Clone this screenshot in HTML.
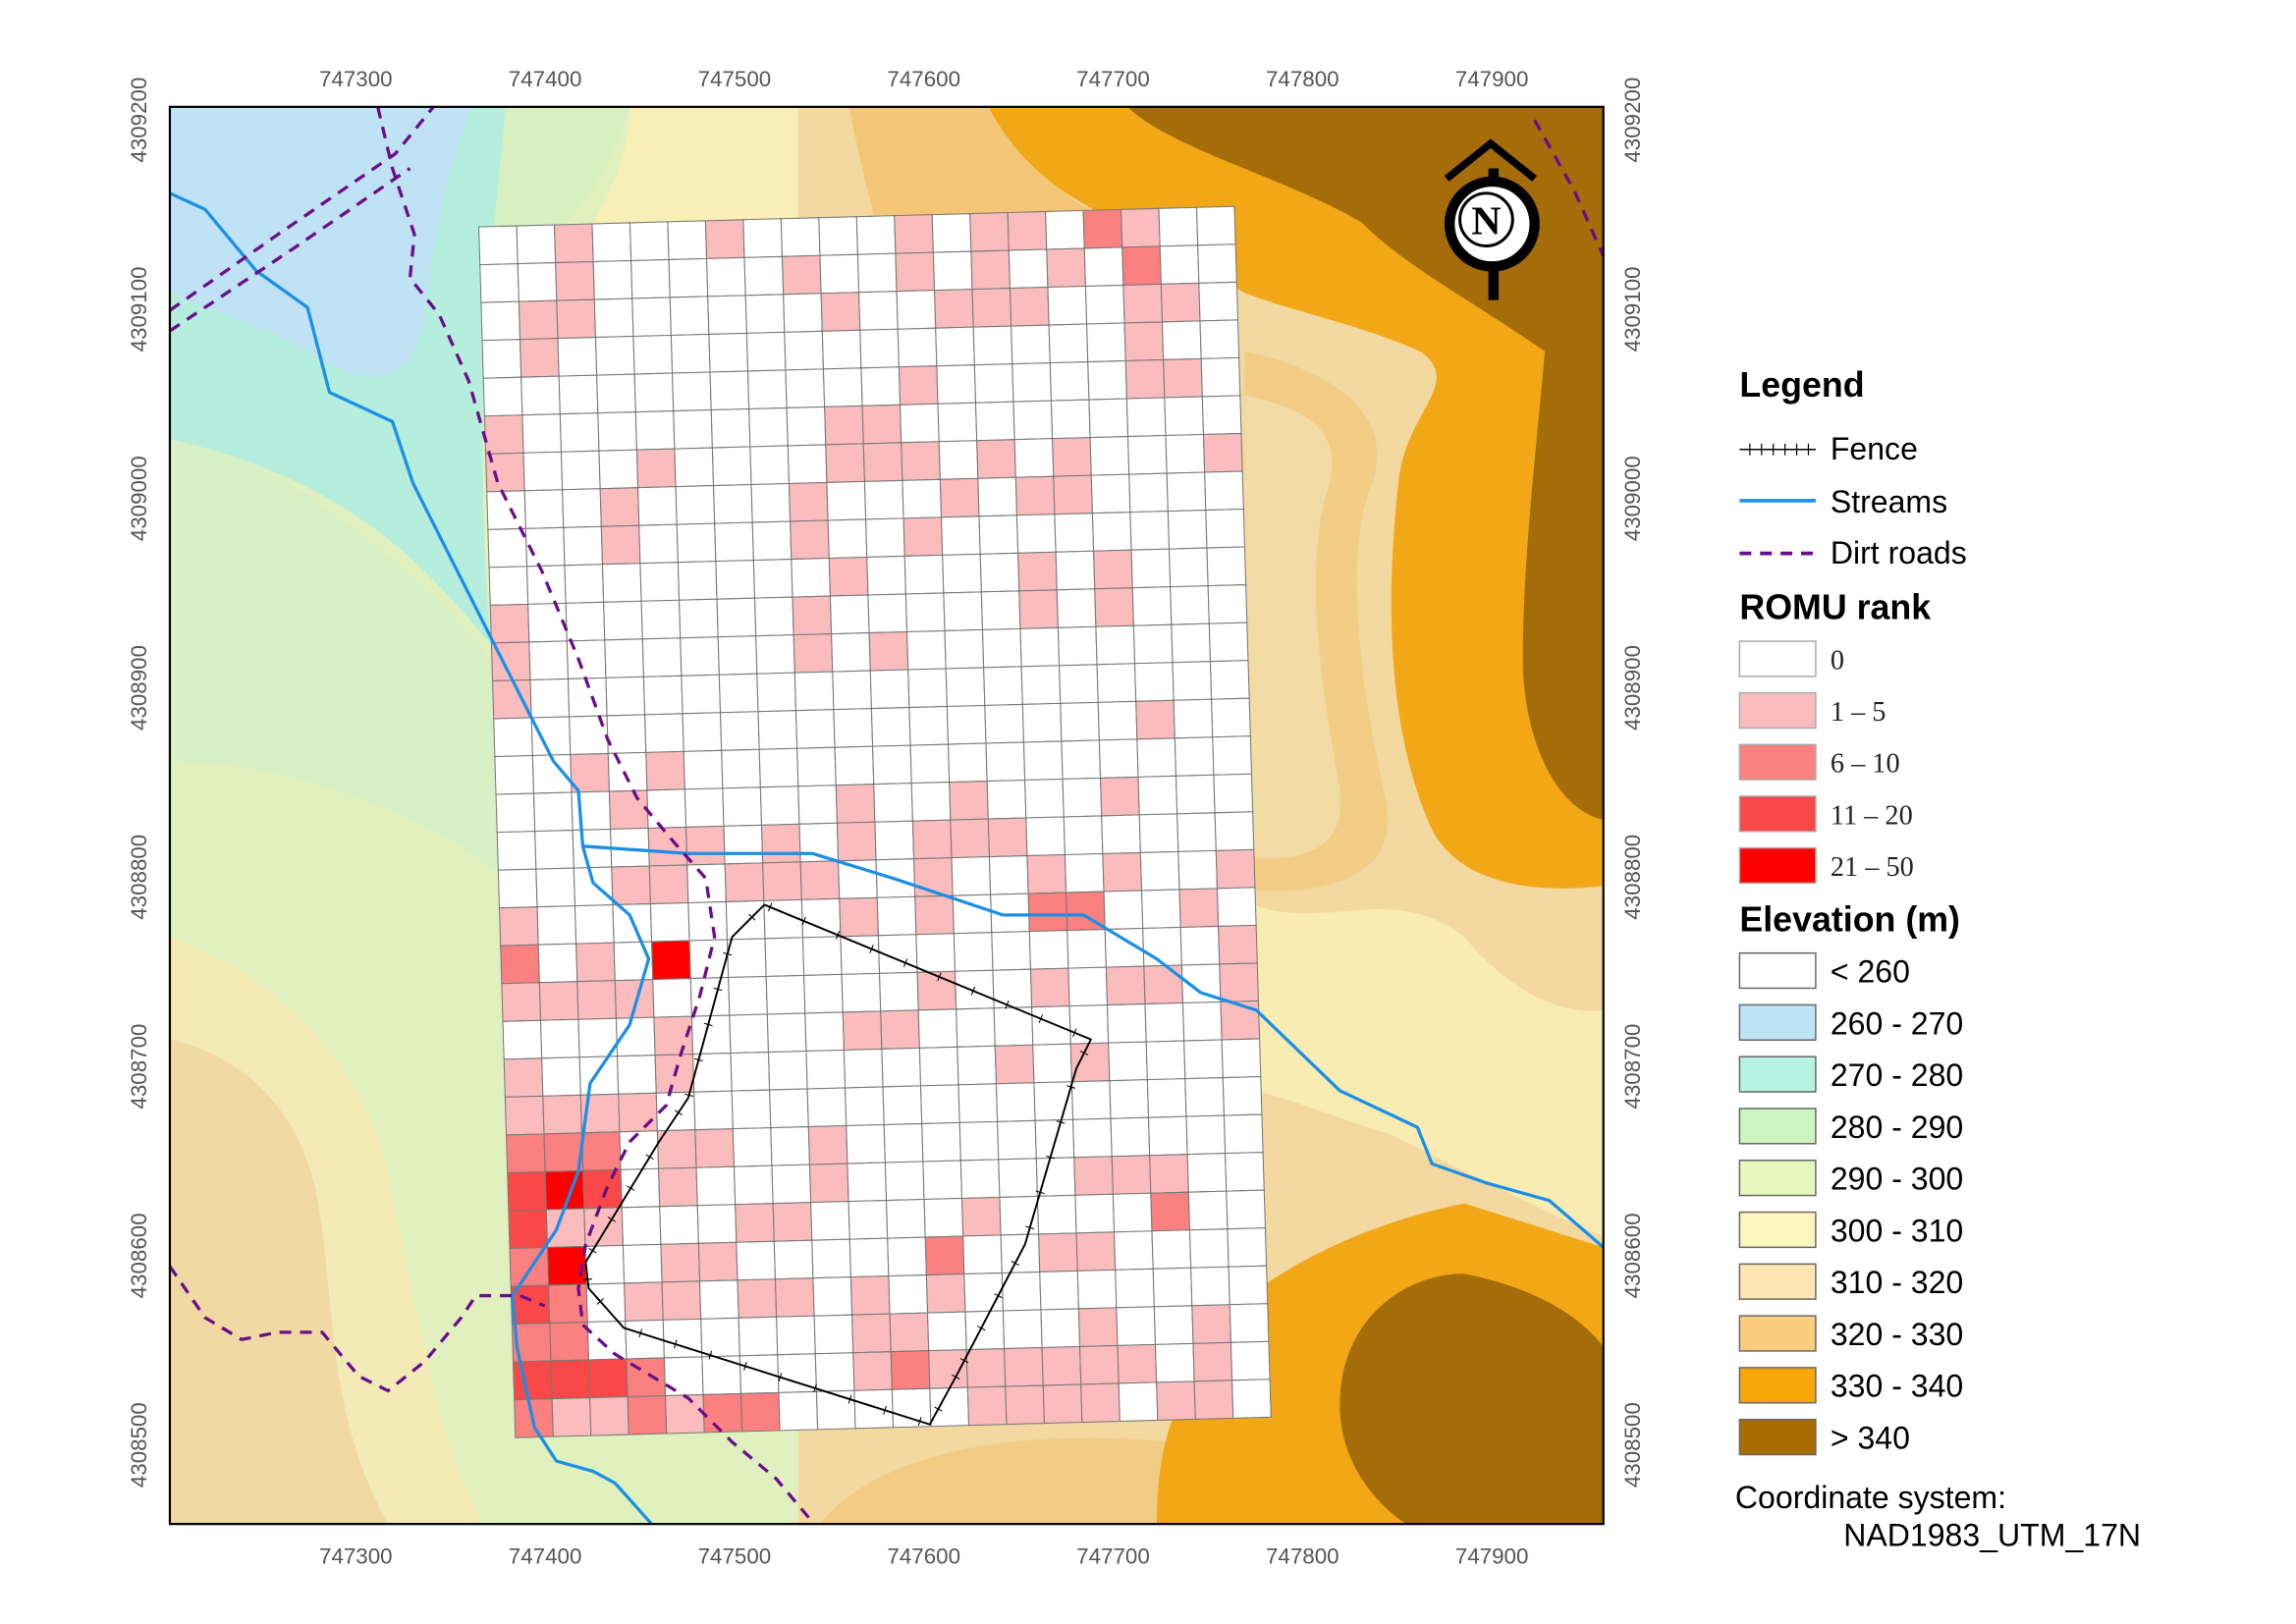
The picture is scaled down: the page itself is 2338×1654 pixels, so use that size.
<!DOCTYPE html>
<html><head><meta charset="utf-8"><title>ROMU rank map</title>
<style>
html,body{margin:0;padding:0;background:#fff;}
svg{display:block;}
.tk{font-family:"Liberation Sans Narrow","Liberation Sans",sans-serif;font-size:15px;fill:#555;}
.lg{font-family:"Liberation Sans",sans-serif;font-size:21.5px;fill:#000;}
.lgs{font-family:"Liberation Serif",serif;font-size:19px;fill:#222;}
.lgt{font-family:"Liberation Sans",sans-serif;font-size:24px;font-weight:bold;fill:#000;}
</style></head>
<body>
<svg id="map" width="2338" height="1654" viewBox="0 0 1568 1109.3" preserveAspectRatio="none" xmlns="http://www.w3.org/2000/svg">
<defs><clipPath id="frameclip"><rect x="116" y="73" width="979" height="968"/></clipPath></defs>
<g clip-path="url(#frameclip)">
  <rect x="116" y="73" width="979" height="968" fill="#e0f1bf"/>
  <path d="M116,640 C170,660 230,700 260,780 C285,880 290,960 330,1041 L116,1041 Z" fill="#f3ebb5"/>
  <path d="M116,710 C160,720 200,750 215,810 C230,880 220,960 265,1041 L116,1041 Z" fill="#f0d9a2"/>
  <path d="M116,280 C200,330 280,380 335,450 L345,600 C300,560 200,520 116,520 Z" fill="#d8f0c4"/>
  <path d="M330,73 L430,73 C420,110 400,140 380,160 L330,160 Z" fill="#d8f0bf"/>
  <path d="M430,73 L560,73 L560,160 L400,160 C420,130 430,100 430,73 Z" fill="#f7efb5"/>
  <path d="M116,73 L345,73 C340,150 320,250 335,440 C300,400 250,330 116,300 Z" fill="#b5eedd"/>
  <path d="M116,73 L322,73 C305,120 295,170 290,215 C285,262 250,268 215,242 C180,222 150,215 116,200 Z" fill="#bfe3f4"/>
  <path d="M545,73 L1095,73 L1095,1041 L545,1041 Z" fill="#f3d9a0"/>
  <path d="M850,615 C900,640 950,600 1000,640 C1050,700 1095,690 1095,690 L1095,845 C1050,825 1000,800 950,775 C900,760 870,745 850,745 Z" fill="#f8ecb2"/>
  <path d="M580,73 L700,73 C705,120 730,140 770,155 L600,160 C590,120 585,100 580,73 Z" fill="#f3c777"/>
  <path d="M675,73 L1095,73 L1095,605 C1040,612 990,600 975,560 C950,500 945,420 955,330 C960,280 1000,262 970,240 C930,222 880,212 850,200 L760,150 C720,130 695,110 675,73 Z" fill="#f2a716"/>
  <path d="M850,240 C920,255 955,290 935,335 C918,385 930,470 945,540 C958,590 925,612 850,608 Z" fill="#f1cd86"/>
  <path d="M850,270 C900,280 920,300 905,340 C890,400 905,480 915,540 C920,580 890,590 850,585 Z" fill="#f3dba4"/>
  <path d="M770,73 L1095,73 L1095,560 C1060,552 1040,500 1040,450 C1040,380 1050,300 1055,240 C1000,202 960,182 930,152 C880,122 800,102 770,73 Z" fill="#a56c0a"/>
  <path d="M560,1041 C600,990 700,975 800,985 L800,1041 Z" fill="#f2cc85"/>
  <path d="M790,1041 C790,990 800,940 860,880 C900,852 950,832 1000,822 L1095,852 L1095,1041 Z" fill="#f2a716"/>
  <path d="M915,960 C915,900 960,870 1000,870 C1050,880 1080,900 1095,920 L1095,1041 L960,1041 C930,1020 915,990 915,960 Z" fill="#a56c0a"/>
</g>
<g id="grid"></g>
<g id="streams"></g>
<g id="roads"></g>
<g id="fence"></g>
<g>
  <path d="M1020,115 L1020,205" stroke="#000" stroke-width="7"/>
  <path d="M988,122 L1018,98 L1048,122" fill="none" stroke="#000" stroke-width="5"/>
  <circle cx="1019" cy="153" r="29" fill="#fff" stroke="#000" stroke-width="7"/>
  <circle cx="1015" cy="150" r="18" fill="none" stroke="#000" stroke-width="2"/>
  <text x="1015" y="160" text-anchor="middle" font-family="Liberation Serif,serif" font-weight="bold" font-size="28" fill="#000">N</text>
</g>
<rect x="116" y="73" width="979" height="968" fill="none" stroke="#000" stroke-width="1.5"/>
<g id="ticks"></g>
<g>
  <text class="lgt" x="1188" y="271" font-size="30">Legend</text>
  <g>
    <line x1="1188" y1="307" x2="1240" y2="307" stroke="#000" stroke-width="1"/>
    <path d="M1195,303v8M1203,303v8M1211,303v8M1219,303v8M1227,303v8M1235,303v8" stroke="#000" stroke-width="0.8"/>
    <text class="lg" x="1250" y="314">Fence</text></g>
  <g>
    <line x1="1188" y1="342" x2="1240" y2="342" stroke="#1b8fe6" stroke-width="2.5"/>
    <text class="lg" x="1250" y="350">Streams</text></g>
  <g>
    <line x1="1188" y1="378" x2="1240" y2="378" stroke="#6a0d88" stroke-width="2.5" stroke-dasharray="8,6"/>
    <text class="lg" x="1250" y="385">Dirt roads</text></g>
  <text class="lgt" x="1188" y="423">ROMU rank</text>
  <g id="romuLegend"></g>
  <text class="lgt" x="1188" y="636">Elevation (m)</text>
  <g id="elevLegend"></g>
  <text class="lg" x="1185" y="1030">Coordinate system:</text>
  <text class="lg" x="1259" y="1056">NAD1983_UTM_17N</text>
</g>
</svg>
<script>
// ---- data ----
const xTickValues = [747300, 747400, 747500, 747600, 747700, 747800, 747900];
const yTickValues = [4309200, 4309100, 4309000, 4308900, 4308800, 4308700, 4308600, 4308500];
const rankLabels = ["0", "1  –  5", "6  –  10", "11  –  20", "21  –  50"];
const rankColors = ["#ffffff", "#fbbcbd", "#fb8080", "#f94848", "#ff0000"];
const elevLabels = ["< 260", "260 - 270", "270 - 280", "280 - 290", "290 - 300", "300 - 310", "310 - 320", "320 - 330", "330 - 340", "> 340"];
const elevColors = ["#ffffff", "#bee4f8", "#b7f3e1", "#cdf5c0", "#e8f8bd", "#fbf6bc", "#fde6b2", "#fbcd7f", "#f7a70a", "#a86c00"];
// ROMU rank class per cell: 32 rows x 20 columns (0..4)
const rankRows = [
"00100010000101102100",
"00100000100101010200",
"01100000010011100110",
"01000000000000000100",
"00000000000100000110",
"10000000011000000000",
"10001000011101010001",
"00010000100010110000",
"00010000100100000000",
"00000000010000101000",
"10000000100000101000",
"10000000101000000000",
"10000000000000000000",
"00000000000000000100",
"00101000000000000000",
"00010000010010001000",
"00001101010111000000",
"00011011100100101001",
"10000000010100220010",
"20104000000000000001",
"11110000000100101101",
"00001000011000000001",
"10001000000001010000",
"11110000000000000000",
"22201100100000000000",
"34301000100000011100",
"31100011000010000200",
"24001100000200110000",
"32011011010100000000",
"22000000011000010010",
"33320000012111111010",
"21121220000011110110"];
// ---- geometry ----
const X0=747300, PX0=243, Y0=4308500, PY0=987, S=1.293;
function xScale(e){return PX0+(e-X0)*S;}
function yScale(n){return PY0-(n-Y0)*S;}
const NS="http://www.w3.org/2000/svg";
function mk(tag,attrs,parent){const el=document.createElementNS(NS,tag);for(const k in attrs)el.setAttribute(k,attrs[k]);parent.appendChild(el);return el;}
const TL=[327,155],TR=[843,141],BL=[352,982];
function P(u,v){return [TL[0]+(TR[0]-TL[0])*u+(BL[0]-TL[0])*v, TL[1]+(TR[1]-TL[1])*u+(BL[1]-TL[1])*v];}
const grid=document.getElementById('grid');
const nR=rankRows.length,nC=rankRows[0].length;
for(let r=0;r<nR;r++){for(let c=0;c<nC;c++){
  const k=+rankRows[r][c];
  const a=P(c/nC,r/nR),b=P((c+1)/nC,r/nR),d=P((c+1)/nC,(r+1)/nR),e=P(c/nC,(r+1)/nR);
  const cell=mk('polygon',{points:[a,b,d,e].map(p=>p.join(',')).join(' '),fill:rankColors[k],stroke:'#777','stroke-width':0.7},grid);
  
  
}}
const streams=document.getElementById('streams');
const s1=[[116,132],[140,143],[175,185],[210,210],[225,268],[268,288],[282,330],[335,435],[378,520],[395,540],[398,578],[405,603],[430,625],[443,655],[430,700],[403,740],[395,800],[380,840],[350,885],[353,920],[365,975],[380,998],[405,1005],[420,1013],[445,1041]];
const s2=[[398,578],[470,583],[555,583],[610,600],[685,625],[740,625],[790,655],[820,678],[858,690],[915,745],[968,770],[978,795],[1015,808],[1058,820],[1095,852]];
[s1,s2].forEach((s,i)=>{const el=mk('polyline',{points:s.map(p=>p.join(',')).join(' '),fill:'none',stroke:'#1b8fe6','stroke-width':2.2,'stroke-linejoin':'round'},streams);

});
const roads=document.getElementById('roads');
const rd=[
[[258,73],[268,115],[283,160],[280,190],[300,215],[320,260],[340,330],[370,390],[395,450],[415,505],[435,545],[460,575],[482,600],[488,640],[478,680],[465,720],[455,755],[430,780],[415,810],[400,850],[395,880],[398,905],[420,925],[470,955],[500,985],[530,1010],[556,1041]],
[[116,865],[140,900],[165,915],[190,910],[220,910],[245,940],[265,950],[290,930],[315,900],[325,885],[355,885],[372,892]],
[[116,212],[190,160],[270,105],[296,73]],
[[116,226],[200,170],[280,115]],
[[1048,82],[1075,130],[1095,175]]];
rd.forEach((s,i)=>{const el=mk('polyline',{points:s.map(p=>p.join(',')).join(' '),fill:'none',stroke:'#6a0d88','stroke-width':2.2,'stroke-dasharray':'8,6'},roads);

});
const fence=document.getElementById('fence');
const fp=[[522,618],[500,640],[470,750],[450,780],[400,862],[402,880],[426,907],[635,973],[653,940],[700,850],[735,730],[745,710],[522,618]];
const fl=mk('polyline',{points:fp.map(p=>p.join(',')).join(' '),fill:'none',stroke:'#000','stroke-width':1.3},fence);


let tp='';
for(let i=0;i<fp.length-1;i++){const [x1,y1]=fp[i],[x2,y2]=fp[i+1];const L=Math.hypot(x2-x1,y2-y1);const nx=-(y2-y1)/L,ny=(x2-x1)/L;
 for(let t=12;t<L;t+=25){const px=x1+(x2-x1)*t/L,py=y1+(y2-y1)*t/L;tp+=`M${px-nx*3},${py-ny*3}L${px+nx*3},${py+ny*3}`;}}
const ft=mk('path',{d:tp,stroke:'#000','stroke-width':0.7},fence);


const ticks=document.getElementById('ticks');
xTickValues.forEach(v=>{const x=xScale(v);
 ['top','bottom'].forEach(side=>{const t=mk('text',{x:x,y:side==='top'?59:1068,'text-anchor':'middle',class:'tk'},ticks);t.textContent=v;
 
 });});
yTickValues.forEach(v=>{const y=yScale(v);
 [[100,'left'],[1120,'right']].forEach(([x,side])=>{const t=mk('text',{x:x,y:y,'text-anchor':'middle',class:'tk',transform:`rotate(-90 ${x} ${y})`},ticks);t.textContent=v;
 
 });});
const rl=document.getElementById('romuLegend');
rankLabels.forEach((lab,i)=>{const y=438+i*35.3;
 const g=mk('g',{},rl);
 
 
 mk('rect',{x:1188,y:y,width:52,height:24,fill:rankColors[i],stroke:'#aaa','stroke-width':1},g);
 const t=mk('text',{x:1250,y:y+19,class:'lgs','xml:space':'preserve'},g);t.textContent=lab;});
const el=document.getElementById('elevLegend');
elevLabels.forEach((lab,i)=>{const y=651+i*35.4;
 const g=mk('g',{},el);
 
 
 mk('rect',{x:1188,y:y,width:52,height:24,fill:elevColors[i],stroke:'#666','stroke-width':1},g);
 const t=mk('text',{x:1250,y:y+20,class:'lg'},g);t.textContent=lab;});
</script>
</body></html>
